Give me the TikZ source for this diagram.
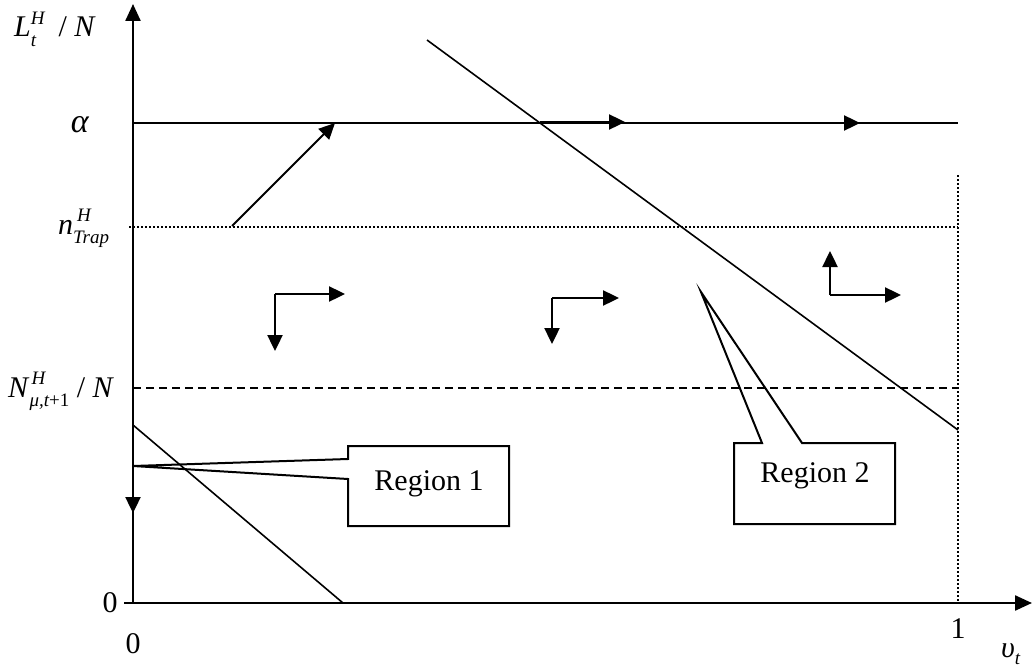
\documentclass[tikz,border=0pt]{standalone}
\usepackage{fontspec}
\setmainfont{Liberation Serif}
\usetikzlibrary{arrows.meta}
\newcommand\smf{\fontsize{19}{20}\selectfont\itshape}
\newcommand\supsub[2]{\rlap{\raisebox{0.42em}{\smf #1}}\raisebox{-0.32em}{\smf #2}}
\begin{document}
\begin{tikzpicture}[x=1pt,y=-1pt,
  axis/.style={line width=2.4pt,-{Triangle[length=17pt,width=15pt]}},
  thin/.style={line width=1.6pt},
  arr/.style={line width=2.4pt,-{Triangle[length=16pt,width=15pt]}},
  lbl/.style={inner sep=0pt,font=\fontsize{30}{34}\selectfont},
  box/.style={line width=2pt}]
\useasboundingbox (0,0) rectangle (1034,669);
% axes
\coordinate (o) at (133,603);
\coordinate (xs) at (124,603);
\coordinate (xe) at (1032,603);
\coordinate (ye) at (133,4);
\draw[axis] (xs) -- (xe);
\draw[axis] (o) -- (ye);
% horizontal reference lines
\coordinate (a0) at (133,123); \coordinate (a1) at (958,123);
\coordinate (n0) at (129,227); \coordinate (n1) at (958,227);
\coordinate (d0) at (133,388); \coordinate (d1) at (958,388);
\coordinate (v0) at (958,175); \coordinate (v1) at (958,603);
\draw[thin] (a0) -- (a1);
\draw[line width=1.4pt,dash pattern=on 2pt off 2pt] (n0) -- (n1);
\draw[line width=1.6pt,dash pattern=on 8pt off 5pt] (d0) -- (d1);
\draw[line width=1.4pt,dash pattern=on 2pt off 2pt] (v0) -- (v1);
% sloped lines
\coordinate (s2a) at (427,40); \coordinate (s2b) at (958,430);
\coordinate (s1a) at (133,425); \coordinate (s1b) at (343,603);
\draw[thin] (s2a) -- (s2b);
\draw[thin] (s1a) -- (s1b);
% arrows
\coordinate (p0) at (232,226); \coordinate (p1) at (335,123);
\draw[line width=2pt,-{Triangle[length=16pt,width=15pt]}] (p0) -- (p1);
\coordinate (q0) at (540,122); \coordinate (q1) at (625,122);
\coordinate (r0) at (775,123); \coordinate (r1) at (860,123);
\draw[arr] (q0) -- (q1);
\draw[arr] (r0) -- (r1);
% turn arrows
\coordinate (c1) at (275,294); \coordinate (c1r) at (345,294); \coordinate (c1d) at (275,351);
\draw[arr] (c1) -- (c1r);
\draw[arr] (c1) -- (c1d);
\coordinate (c2) at (552,298); \coordinate (c2r) at (619,298); \coordinate (c2d) at (552,344);
\draw[arr] (c2) -- (c2r);
\draw[arr] (c2) -- (c2d);
\coordinate (c3) at (830,295); \coordinate (c3r) at (901,295); \coordinate (c3u) at (830,251);
\draw[arr] (c3) -- (c3r);
\draw[arr] (c3) -- (c3u);
% down arrow on y axis
\coordinate (y0) at (133,480); \coordinate (y1) at (133,513);
\draw[arr] (y0) -- (y1);
% callouts
\node[lbl] (reg1) at (429,484) {Region 1};
\draw[box] (348,446) -- (509,446) -- (509,526) -- (348,526) -- (348,479)
  -- (133,466) -- (348,459) -- cycle;
\node[lbl] (reg2) at (815,476) {Region 2};
\draw[box] (734,443) -- (762,443) -- (701,292) -- (802,443) -- (895,443)
  -- (895,524) -- (734,524) -- cycle;
% labels
\node[lbl,anchor=base west] (ly) at (14,37) {\textit{L}\supsub{H}{t}\hspace{0.75em}/ \textit{N}};
\node[lbl,anchor=base] (lal) at (80,132) {\fontsize{34}{36}\selectfont\textit{α}};
\node[lbl,anchor=base west] (ltr) at (58,234) {\textit{n}\supsub{\hspace{0.2em}H}{Trap}};
\node[lbl,anchor=base west] (lnm) at (8,397) {\textit{N}\supsub{\hspace{0.1em}H}{μ,t\upshape+1}\hspace{0.25em}/ \textit{N}};
\node[lbl] (lz1) at (110,603) {0};
\node[lbl] (lz2) at (133,644) {0};
\node[lbl] (lone) at (958,629) {1};
\node[lbl,anchor=base west] (lv) at (1001,657) {\textit{υ}\raisebox{-0.25em}{\smf t}};
\end{tikzpicture}
\end{document}
